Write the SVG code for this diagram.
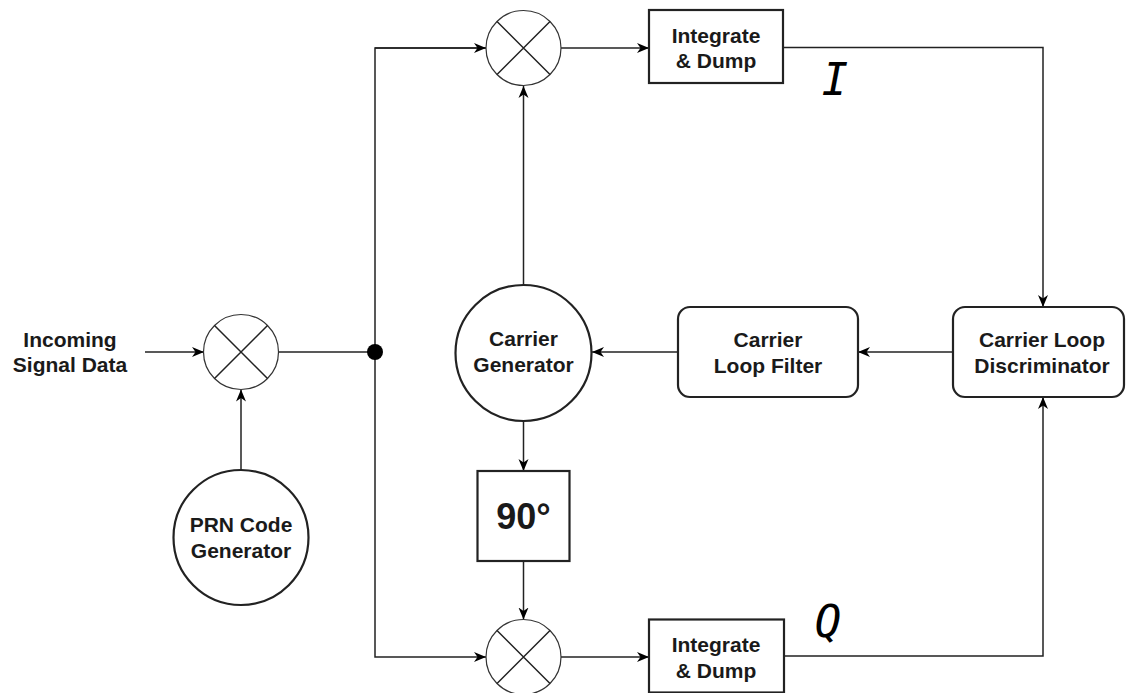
<svg xmlns="http://www.w3.org/2000/svg" width="1126" height="693" viewBox="0 0 1126 693">
<defs>
<marker id="arr" markerWidth="13" markerHeight="11" refX="12" refY="5.5" orient="auto" markerUnits="userSpaceOnUse">
<path d="M0,0.5 L12,5.5 L0,10.5 L3.5,5.5 Z" fill="#000"/>
</marker>
</defs>
<style>
.t{font-family:"Liberation Sans",Arial,sans-serif;font-weight:bold;font-size:21px;fill:#1a1a1a;text-anchor:middle}
.big{font-size:36px}
.m{font-family:"DejaVu Sans Mono","Liberation Mono",monospace;font-style:italic;font-size:44px;fill:#000;text-anchor:middle}
.c{fill:none;stroke:#222;stroke-width:1.5}
.mix{fill:#fff;stroke:#333;stroke-width:1.2}
.box{fill:#fff;stroke:#222;stroke-width:2.2}
</style>
<rect width="1126" height="693" fill="#fff"/>
<g id="connectors" class="c">
<line x1="145" y1="352" x2="204" y2="352" marker-end="url(#arr)"/>
<line x1="278.5" y1="352" x2="375" y2="352"/>
<polyline points="486,48 375,48 375,657 486,657" marker-end="url(#arr)"/>
<line x1="375" y1="48" x2="486" y2="48" marker-end="url(#arr)"/>
<line x1="241" y1="470" x2="241" y2="389.5" marker-end="url(#arr)"/>
<line x1="523.5" y1="285" x2="523.5" y2="86" marker-end="url(#arr)"/>
<line x1="523.5" y1="421" x2="523.5" y2="471" marker-end="url(#arr)"/>
<line x1="523.5" y1="561" x2="523.5" y2="619.5" marker-end="url(#arr)"/>
<line x1="561" y1="48" x2="649" y2="48" marker-end="url(#arr)"/>
<line x1="561" y1="657" x2="649" y2="657" marker-end="url(#arr)"/>
<polyline points="783,47.5 1043,47.5 1043,307" marker-end="url(#arr)"/>
<polyline points="784,656 1043,656 1043,397" marker-end="url(#arr)"/>
<line x1="953" y1="352" x2="858" y2="352" marker-end="url(#arr)"/>
<line x1="678" y1="352" x2="592" y2="352" marker-end="url(#arr)"/>
<circle cx="375" cy="352" r="8" fill="#000" stroke="none"/>
</g>
<g id="input-label"><text class="t" x="70" y="347">Incoming</text><text class="t" x="70" y="372">Signal Data</text></g>
<g id="mixer-input">
<circle class="mix" cx="241" cy="352" r="37.5"/>
<path class="c" d="M214.5,325.5 L267.5,378.5 M267.5,325.5 L214.5,378.5" stroke-width="1"/>
</g>
<g id="mixer-i">
<circle class="mix" cx="523.5" cy="48" r="37.5"/>
<path class="c" d="M497,21.5 L550,74.5 M550,21.5 L497,74.5" stroke-width="1"/>
</g>
<g id="mixer-q">
<circle class="mix" cx="523.5" cy="657" r="37.5"/>
<path class="c" d="M497,630.5 L550,683.5 M550,630.5 L497,683.5" stroke-width="1"/>
</g>
<g id="prn"><circle class="box" cx="241" cy="537.5" r="67.5"/><text class="t" x="241" y="532">PRN Code</text><text class="t" x="241" y="558">Generator</text></g>
<g id="carrier-gen"><circle class="box" cx="523.5" cy="353" r="68"/><text class="t" x="523.5" y="346">Carrier</text><text class="t" x="523.5" y="372">Generator</text></g>
<g id="phase90"><rect class="box" x="477.5" y="471" width="92" height="90"/><text class="t big" x="523.5" y="529">90°</text></g>
<g id="id-top"><rect class="box" x="649" y="10" width="134" height="73"/><text class="t" x="716" y="43">Integrate</text><text class="t" x="716" y="68">&amp; Dump</text></g>
<g id="id-bottom"><rect class="box" x="649" y="619.5" width="135" height="73"/><text class="t" x="716" y="652">Integrate</text><text class="t" x="716" y="678">&amp; Dump</text></g>
<g id="loop-filter"><rect class="box" x="678" y="307" width="180" height="90" rx="12"/><text class="t" x="768" y="347">Carrier</text><text class="t" x="768" y="373">Loop Filter</text></g>
<g id="discriminator"><rect class="box" x="953" y="307" width="171" height="90" rx="12"/><text class="t" x="1042" y="347">Carrier Loop</text><text class="t" x="1042" y="373">Discriminator</text></g>
<g id="label-i"><text class="m" x="835" y="95">I</text></g>
<g id="label-q"><text class="m" x="828" y="637">Q</text></g>
</svg>
